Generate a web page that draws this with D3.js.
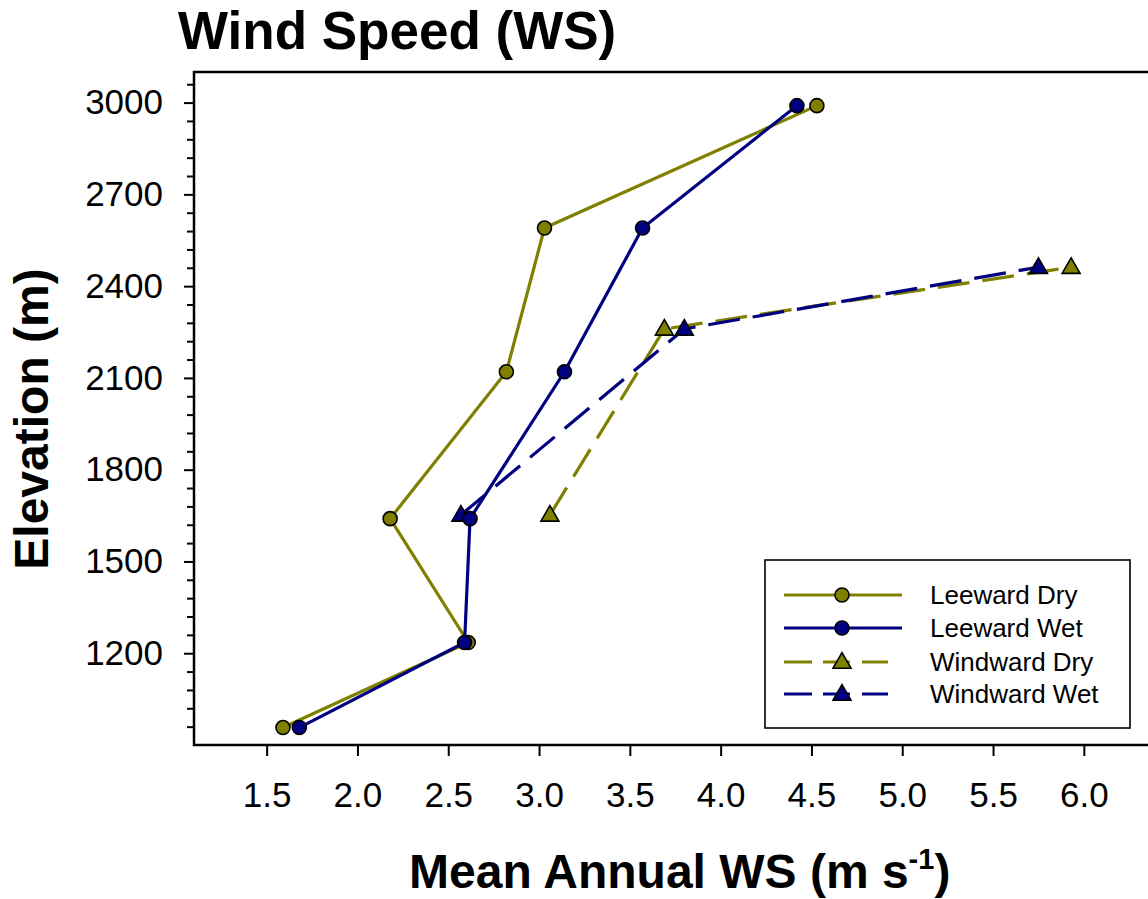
<!DOCTYPE html>
<html>
<head>
<meta charset="utf-8">
<script src="https://cdn.jsdelivr.net/npm/d3@7/dist/d3.min.js"></script>
<style>
  html, body { margin: 0; padding: 0; background: #fff; }
  svg { display: block; font-family: "Liberation Sans", Arial, sans-serif; }
</style>
</head>
<body>
<svg id="chart" width="1148" height="899"></svg>
<script>
// Station elevations (m)
const leewardElev = [957, 1235, 1640, 2120, 2590, 2990];
const windwardElev = [1652, 2260, 2462];

// Mean annual wind speed (m s-1)
const leewardDry = [1.59, 2.61, 2.18, 2.82, 3.03, 4.53];
const leewardWet = [1.68, 2.59, 2.62, 3.14, 3.57, 4.42];
const windwardDry = [3.06, 3.69, 5.93];
const windwardWet = [2.57, 3.80, 5.75];

// Axis ticks
const xTicks = [1.5, 2.0, 2.5, 3.0, 3.5, 4.0, 4.5, 5.0, 5.5, 6.0];
const yTicks = [1200, 1500, 1800, 2100, 2400, 2700, 3000];
const yMinorTicks = d3.range(960, 3061, 60).filter(v => v % 300 !== 0);

const OLIVE = "#808000";
const NAVY = "#000080";

const series = [
  { name: "Windward Dry", elev: windwardElev, ws: windwardDry, color: OLIVE, dashed: true, symbol: "triangle" },
  { name: "Windward Wet", elev: windwardElev, ws: windwardWet, color: NAVY, dashed: true, symbol: "triangle" },
  { name: "Leeward Dry", elev: leewardElev, ws: leewardDry, color: OLIVE, dashed: false, symbol: "circle" },
  { name: "Leeward Wet", elev: leewardElev, ws: leewardWet, color: NAVY, dashed: false, symbol: "circle" }
];
const legendOrder = ["Leeward Dry", "Leeward Wet", "Windward Dry", "Windward Wet"];

const svg = d3.select("#chart");

const plotLeft = 194, plotTop = 72, plotBottom = 745;
const x = d3.scaleLinear().domain([1.1, 6.4]).range([plotLeft, plotLeft + 5.3 * 181.6]);
const y = d3.scaleLinear().domain([900, 3100]).range([plotBottom, plotTop]);

// Frame
svg.append("rect")
  .attr("x", plotLeft).attr("y", plotTop)
  .attr("width", x(6.4) - plotLeft).attr("height", plotBottom - plotTop)
  .attr("fill", "none").attr("stroke", "#000").attr("stroke-width", 2.5);

// X axis
const xAxis = svg.append("g")
  .attr("transform", `translate(0,${plotBottom})`)
  .call(d3.axisBottom(x).tickValues(xTicks).tickFormat(d3.format(".1f")).tickSize(11).tickPadding(26));
xAxis.select(".domain").remove();
xAxis.selectAll(".tick line").attr("stroke", "#000").attr("stroke-width", 2);
xAxis.selectAll(".tick text").attr("font-size", 35).attr("font-family", "Liberation Sans, Arial, sans-serif").attr("fill", "#000");

// Y axis (major)
const yAxis = svg.append("g")
  .attr("transform", `translate(${plotLeft},0)`)
  .call(d3.axisLeft(y).tickValues(yTicks).tickFormat(d3.format("d")).tickSize(10).tickPadding(21));
yAxis.select(".domain").remove();
yAxis.selectAll(".tick line").attr("stroke", "#000").attr("stroke-width", 2);
yAxis.selectAll(".tick text").attr("font-size", 35).attr("font-family", "Liberation Sans, Arial, sans-serif").attr("fill", "#000");

// Y axis (minor)
const yMinor = svg.append("g")
  .attr("transform", `translate(${plotLeft},0)`)
  .call(d3.axisLeft(y).tickValues(yMinorTicks).tickFormat("").tickSize(7));
yMinor.select(".domain").remove();
yMinor.selectAll(".tick line").attr("stroke", "#000").attr("stroke-width", 2);

// Symbols
const triPath = d3.symbol().type(d3.symbolTriangle).size(140)();
function drawSymbol(g, s, cx, cy) {
  if (s.symbol === "circle") {
    g.append("circle").attr("cx", cx).attr("cy", cy).attr("r", 7)
      .attr("fill", s.color).attr("stroke", "#000").attr("stroke-width", 1.6);
  } else {
    g.append("path").attr("d", triPath).attr("transform", `translate(${cx},${cy + 1})`)
      .attr("fill", s.color).attr("stroke", "#000").attr("stroke-width", 1.6);
  }
}

const line = d3.line().x(d => x(d[0])).y(d => y(d[1]));
const plot = svg.append("g");
series.forEach(s => {
  const pts = s.ws.map((v, i) => [v, s.elev[i]]);
  plot.append("path")
    .attr("d", line(pts))
    .attr("fill", "none")
    .attr("stroke", s.color)
    .attr("stroke-width", 3.2)
    .attr("stroke-dasharray", s.dashed ? "32,13" : null);
  pts.forEach(p => drawSymbol(plot, s, x(p[0]), y(p[1])));
});

// Legend
const lg = svg.append("g");
lg.append("rect").attr("x", 765).attr("y", 560).attr("width", 365).attr("height", 168)
  .attr("fill", "#fff").attr("stroke", "#000").attr("stroke-width", 1.6);
const rowY = [595, 628, 662, 694];
legendOrder.forEach((name, i) => {
  const s = series.find(d => d.name === name);
  const yy = rowY[i];
  if (s.dashed) {
    [[784, 812], [823, 850], [862, 888]].forEach(seg => {
      lg.append("line").attr("x1", seg[0]).attr("x2", seg[1]).attr("y1", yy).attr("y2", yy)
        .attr("stroke", s.color).attr("stroke-width", 3);
    });
  } else {
    lg.append("line").attr("x1", 784).attr("x2", 902).attr("y1", yy).attr("y2", yy)
      .attr("stroke", s.color).attr("stroke-width", 3);
  }
  drawSymbol(lg, s, 842, yy);
  lg.append("text").attr("x", 930).attr("y", yy + 9).attr("font-size", 26).attr("fill", "#000").text(name);
});

// Titles
svg.append("text").attr("x", 178).attr("y", 49)
  .attr("font-size", 53).attr("font-weight", "bold").attr("fill", "#000")
  .text("Wind Speed (WS)");

const xt = svg.append("text").attr("x", 409).attr("y", 888)
  .attr("font-size", 48).attr("font-weight", "bold").attr("fill", "#000");
xt.append("tspan").text("Mean Annual WS (m s");
xt.append("tspan").attr("font-size", 29).attr("dy", -19).text("-1");
xt.append("tspan").attr("dy", 19).text(")");

svg.append("text")
  .attr("transform", "translate(48,419) rotate(-90)")
  .attr("text-anchor", "middle")
  .attr("font-size", 48).attr("font-weight", "bold").attr("fill", "#000")
  .text("Elevation (m)");
</script>
</body>
</html>
